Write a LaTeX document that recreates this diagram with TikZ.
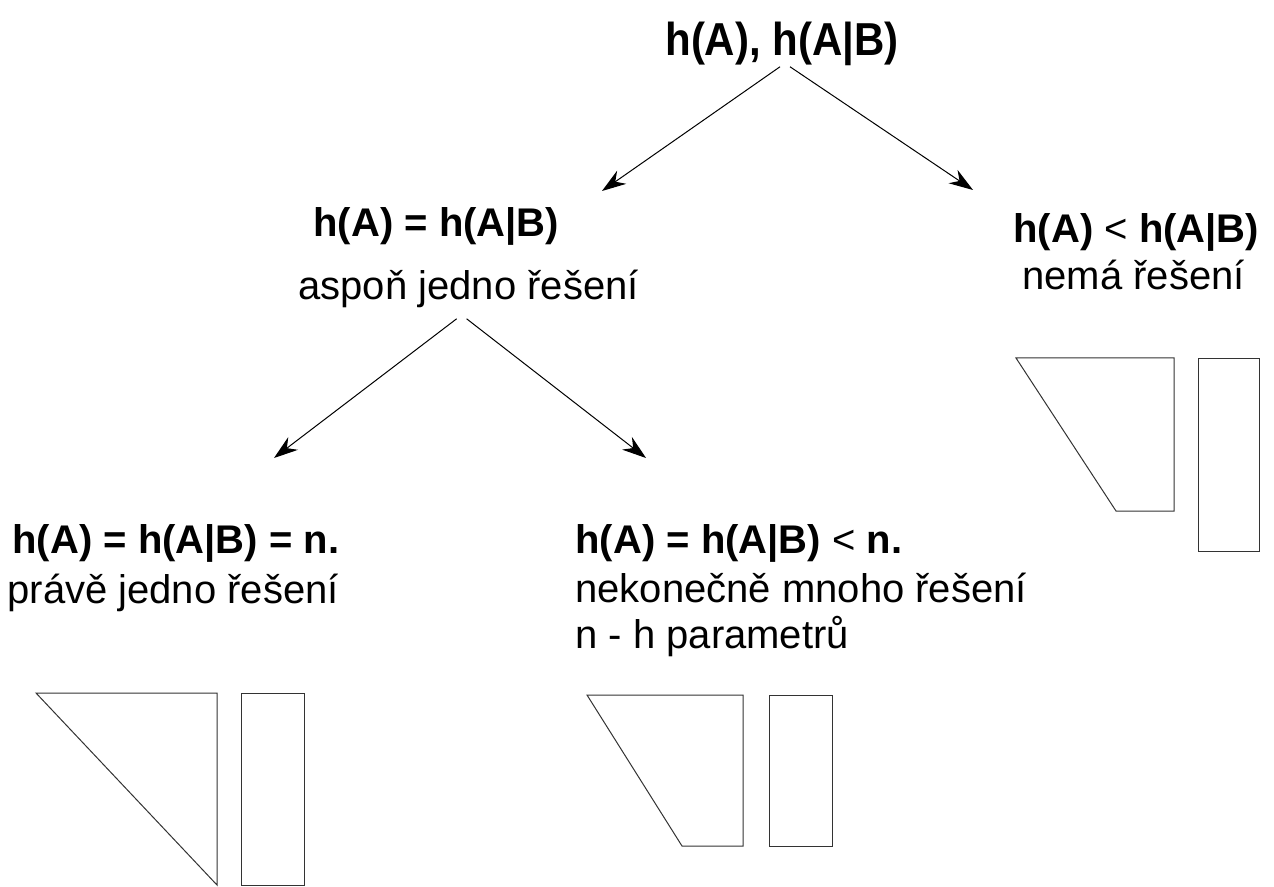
\documentclass[tikz,border=0pt]{standalone}
\usepackage{fontspec}
\setmainfont{Liberation Sans}
\usetikzlibrary{arrows.meta,positioning}
\tikzset{>={Stealth[length=12pt,width=8pt]}}
\tikzset{
	hlavni/.style={anchor=base west, inner sep=0pt, font=\fontsize{20pt}{24pt}\selectfont\bfseries},
	popis/.style={anchor=base west, inner sep=0pt, font=\fontsize{20pt}{24pt}\selectfont},
	obrys/.style={draw=black!80, line width=0.5pt}
}
\begin{document}
\begin{tikzpicture}[x=0.5pt, y=-0.5pt, line width=0.5pt]
	\useasboundingbox (0,0) rectangle (1274,887);
	% texty
	\node[hlavni, anchor=base, font=\fontsize{21pt}{24pt}\selectfont\bfseries] (koren) at (782,56) {\scalebox{1}[1.1]{h(A), h(A|B)}};
	\node[hlavni] (rovno) at (313,237) {h(A) = h(A|B)};
	\node[popis] (aspon) at (298,300) {aspoň jedno řešení};
	\node[hlavni] (mensi) at (1013,243) {h(A) {\mdseries <} h(A|B)};
	\node[popis] (nema) at (1022,290) {nemá řešení};
	\node[hlavni] (rovnon) at (12,553) {h(A) = h(A|B) = n.};
	\node[popis] (prave) at (7,603) {právě jedno řešení};
	\node[hlavni] (mensin) at (575,553) {h(A) = h(A|B) {\mdseries <} n.};
	\node[popis] (nekon) at (575,602) {nekonečně mnoho řešení};
	\node[popis] (param) at (575,648) {n - h parametrů};
	% konce sipek
	\coordinate (c1) at (602,191);
	\coordinate (c2) at (973,190);
	\coordinate (c3) at (274,458);
	\coordinate (c4) at (646,458);
	\draw[->] ([xshift=-1pt]koren.south) -- (c1);
	\draw[->] ([xshift=4pt]koren.south) -- (c2);
	\draw[->] ([xshift=-6pt,yshift=-5pt]aspon.south) -- (c3);
	\draw[->] ([xshift=-1pt,yshift=-5pt]aspon.south) -- (c4);
	% obrazce
	\draw[obrys] (36,693) -- (217,693) -- (217,885) -- cycle;
	\draw[obrys] (241,693) rectangle (304,885);
	\draw[obrys] (587,695) -- (743,695) -- (743,846) -- (682,846) -- cycle;
	\draw[obrys] (769,695) rectangle (832,846);
	\draw[obrys] (1016,358) -- (1174,358) -- (1174,511) -- (1116,511) -- cycle;
	\draw[obrys] (1198,359) rectangle (1259,551);
\end{tikzpicture}
\end{document}
